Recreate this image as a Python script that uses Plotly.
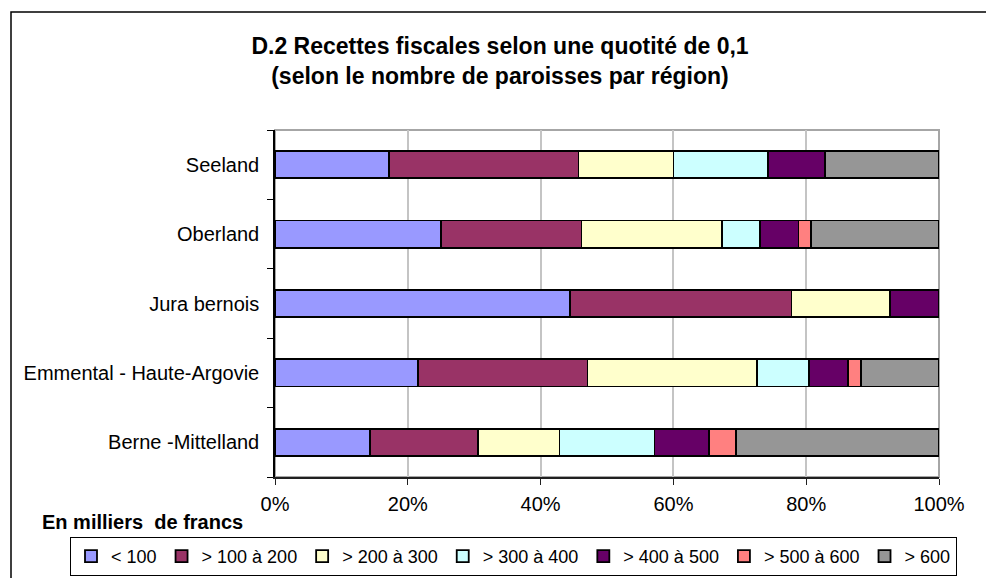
import plotly.graph_objects as go

# Data: number of parishes per revenue class (rendered as 100% stacked)
regions = ["Berne -Mittelland", "Emmental - Haute-Argovie", "Jura bernois", "Oberland", "Seeland"]
series_names = ["< 100", "> 100 à 200", "> 200 à 300", "> 300 à 400", "> 400 à 500", "> 500 à 600", "> 600"]
lt100 = [7, 11, 12, 13, 6]
c100_200 = [8, 13, 9, 11, 10]
c200_300 = [6, 13, 4, 11, 5]
c300_400 = [7, 4, 0, 3, 5]
c400_500 = [4, 3, 2, 3, 3]
c500_600 = [2, 1, 0, 1, 0]
gt600 = [15, 6, 0, 10, 6]
x_ticks = [0, 20, 40, 60, 80, 100]
x_tick_labels = ["0%", "20%", "40%", "60%", "80%", "100%"]

series_values = [lt100, c100_200, c200_300, c300_400, c400_500, c500_600, gt600]
colors = ["#9999FF", "#993366", "#FFFFCC", "#CCFFFF", "#660066", "#FF8080", "#969696"]

FONT = "Liberation Sans, Arial, sans-serif"

fig = go.Figure()
for name, vals, col in zip(series_names, series_values, colors):
    fig.add_trace(go.Bar(
        y=regions, x=vals, name=name, orientation="h",
        marker=dict(color=col, line=dict(color="black", width=1.8)),
        hoverinfo="x+y+name",
    ))

# plot area in pixels: x 275..939, y 130..477
L, R, T, B = 275, 939, 130, 477
W, H = R - L, B - T
def px(xp):
    return (xp - L) / W
def py(yp):
    return (B - yp) / H

fig.update_layout(
    width=986, height=578,
    margin=dict(l=L, r=986 - R, t=T, b=578 - B, autoexpand=False),
    barmode="stack", barnorm="percent", bargap=0.61,
    plot_bgcolor="white", paper_bgcolor="white",
    font=dict(family=FONT, size=20, color="black"),
    title=dict(
        text="<b>D.2 Recettes fiscales selon une quotité de 0,1<br>(selon le nombre de paroisses par région)</b>",
        font=dict(family=FONT, size=23, color="black"),
        x=500 / 986, xanchor="center", xref="container",
        y=1 - 54 / 578, yanchor="top", yref="container",
    ),
    showlegend=True,
    legend=dict(
        orientation="h", traceorder="normal",
        x=px(70), xanchor="left", y=py(537), yanchor="top",
        bordercolor="black", borderwidth=1,
        font=dict(family=FONT, size=18, color="black"),
        bgcolor="white",
    ),
    xaxis=dict(
        range=[0, 100], tickvals=x_ticks, ticktext=x_tick_labels,
        showgrid=True, gridcolor="#c4c4c4", gridwidth=1.5,
        showline=True, linecolor="#202020", linewidth=1.5,
        ticks="outside", ticklen=6, tickcolor="#202020",
        tickfont=dict(family=FONT, size=20, color="black"),
        ticklabelstandoff=2,
        zeroline=False, fixedrange=True,
    ),
    yaxis=dict(
        categoryorder="array", categoryarray=regions,
        showline=True, linecolor="black", linewidth=1.5,
        ticks="outside", ticklen=6, tickcolor="black", tickson="boundaries",
        tickfont=dict(family=FONT, size=20, color="black"),
        ticklabelstandoff=10,
        showgrid=False, fixedrange=True,
    ),
    shapes=[
        dict(type="rect", xref="paper", yref="paper", x0=0, x1=1, y0=0, y1=1,
             line=dict(color="#a6a6a6", width=2), layer="below"),
        dict(type="rect", xref="paper", yref="paper", x0=px(11), x1=px(1100), y0=py(650), y1=py(12),
             line=dict(color="black", width=1.5), layer="below"),
    ],
    annotations=[
        dict(text="<b>En milliers  de francs</b>", xref="paper", yref="paper",
             x=px(40), y=py(522), xanchor="left", yanchor="middle", showarrow=False,
             font=dict(family=FONT, size=20, color="black")),
    ],
)

fig.write_html(
    "out.html",
    config={"displayModeBar": False},
    post_script="document.body.style.margin='0';document.body.style.overflow='hidden';",
)
